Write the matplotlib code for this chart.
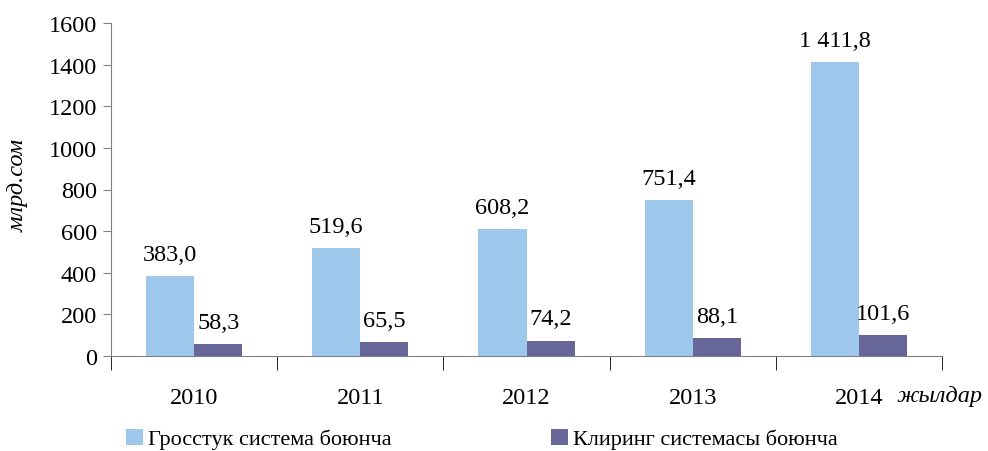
import matplotlib
matplotlib.use("Agg")
import matplotlib.pyplot as plt
import numpy as np

years = ["2010", "2011", "2012", "2013", "2014"]
gross = [383.0, 519.6, 608.2, 751.4, 1411.8]
clearing = [58.3, 65.5, 74.2, 88.1, 101.6]
gross_labels = ["383,0", "519,6", "608,2", "751,4", "1 411,8"]
clearing_labels = ["58,3", "65,5", "74,2", "88,1", "101,6"]
series_names = ["Гросстук система боюнча", "Клиринг системасы боюнча"]

plt.rcParams['font.family'] = ['Liberation Serif', 'DejaVu Serif']

fig = plt.figure(figsize=(9.88, 4.52), dpi=100)
ax = fig.add_axes([111/988, 1 - 357/452, (942-111)/988, (357-24)/452])

x = np.arange(len(years))
w = 0.29
c1 = '#9DC8EB'
c2 = '#666699'
b1 = ax.bar(x - w/2, gross, w, color=c1, label=series_names[0])
b2 = ax.bar(x + w/2, clearing, w, color=c2, label=series_names[1])

fs = 17.5
for rect, lab in zip(b1, gross_labels):
    ax.annotate(lab, (rect.get_x() + rect.get_width()/2, rect.get_height()),
                xytext=(0, 8), textcoords='offset points', ha='center', va='bottom', fontsize=fs)
for rect, lab in zip(b2, clearing_labels):
    ax.annotate(lab, (rect.get_x() + rect.get_width()/2, rect.get_height()),
                xytext=(0, 8), textcoords='offset points', ha='center', va='bottom', fontsize=fs)

ax.set_xlim(-0.5, 4.5)
ax.set_ylim(0, 1600)
ax.set_yticks(np.arange(0, 1601, 200))
ax.tick_params(axis='y', labelsize=fs, length=6, color='#808080', direction='out', pad=4)
ax.set_xticks(x)
ax.set_xticklabels(years)
ax.tick_params(axis='x', which='major', length=0, labelsize=fs, pad=22)
ax.set_xticks(np.arange(-0.5, 5.0, 1.0), minor=True)
ax.tick_params(axis='x', which='minor', length=10, color='black', direction='out')

for s in ['top', 'right']:
    ax.spines[s].set_visible(False)
ax.spines['left'].set_color('#808080')
ax.spines['bottom'].set_color('#808080')

fig.text(18/988, 1 - 185/452, 'млрд.сом', rotation=90, style='italic', fontsize=fs,
         ha='center', va='center')
fig.text(897/988, 1 - 397/452, 'жылдар', style='italic', fontsize=fs, ha='left', va='center')

fig.legend(handles=[b1, b2], loc='center left', bbox_to_anchor=(126/988, 1 - 440/452),
           ncol=2, frameon=False, fontsize=16, handlelength=0.77, handleheight=0.72,
           handletextpad=0.2, columnspacing=7.2, borderaxespad=0, borderpad=0)

fig.savefig('out.png', dpi=100)
